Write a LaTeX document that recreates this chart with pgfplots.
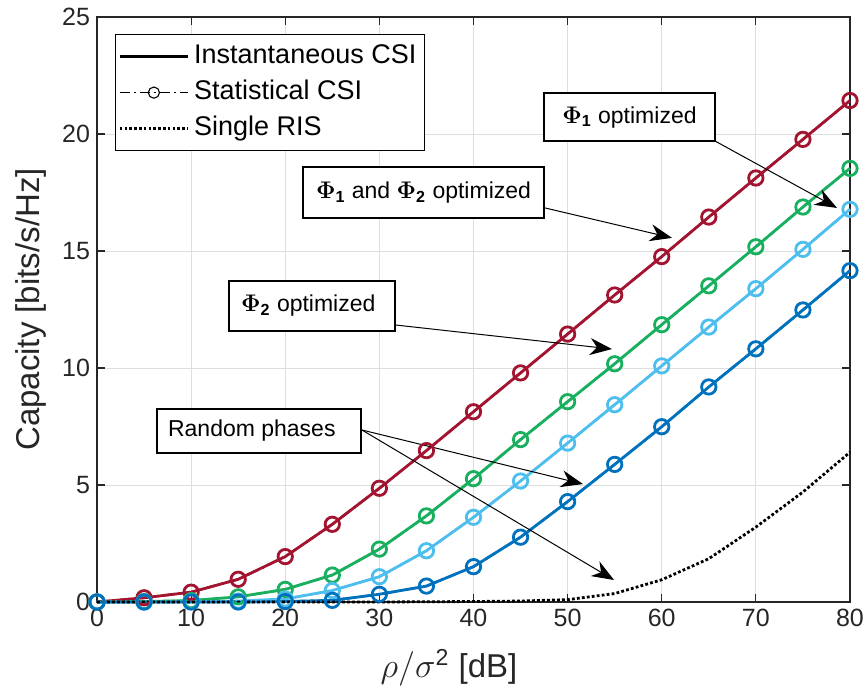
\documentclass[border=0pt]{standalone}
\usepackage[no-math]{fontspec}
\setmainfont{Liberation Sans}
\usepackage{amsmath}
\usepackage{pgfplots}
\usepackage{pgfplotstable}
\pgfplotsset{compat=1.18}
\usetikzlibrary{arrows.meta}

\definecolor{cred}{HTML}{A2142F}
\definecolor{cgreen}{HTML}{18B05E}
\definecolor{clblue}{HTML}{4DBEEE}
\definecolor{cdblue}{HTML}{0072BD}
\definecolor{axgray}{HTML}{262626}

\pgfplotstableread{
x   red   green lblue dblue ris
0   0     0     0     0     0
5   0.18  0.02  0.00  0.00  0.00
10  0.42  0.06  0.01  0.00  0.00
15  0.97  0.22  0.04  0.00  0.00
20  1.94  0.54  0.13  0.02  0.00
25  3.32  1.15  0.49  0.07  0.00
30  4.86  2.26  1.08  0.33  0.00
35  6.47  3.68  2.19  0.68  0.01
40  8.13  5.27  3.62  1.51  0.02
45  9.79  6.94  5.17  2.77  0.04
50  11.45 8.56  6.79  4.29  0.10
55  13.12 10.18 8.43  5.88  0.36
60  14.76 11.85 10.09 7.49  0.95
65  16.45 13.51 11.75 9.19  1.85
70  18.12 15.18 13.39 10.82 3.20
75  19.77 16.88 15.07 12.48 4.70
80  21.43 18.53 16.78 14.16 6.40
}\data

\tikzset{annarrow/.style={line width=0.5pt, -{Stealth[length=11pt, width=8.5pt, inset=3.5pt]}},
  annbox/.style={line width=0.6pt, draw=black, fill=white},
  anntext/.style={font=\fontsize{11.5}{13}\selectfont}}

\begin{document}
\begin{tikzpicture}
\begin{axis}[
  at={(0,0)}, anchor=south west,
  scale only axis, width=376.5pt, height=292.5pt,
  xmin=0, xmax=80, ymin=0, ymax=25,
  xtick={0,10,...,80}, ytick={0,5,...,25},
  grid=major, major grid style={color=black!13, line width=0.4pt},
  axis line style={color=axgray, line width=0.6pt},
  tick align=inside, tick pos=both, major tick length=4pt,
  tick style={color=axgray, line width=0.6pt},
  ticklabel style={font=\fontsize{12.5}{14}\selectfont, color=axgray},
  /pgf/number format/assume math mode=true,
  xlabel={$\rho/\sigma^{\text{2}}$ [dB]},
  ylabel={Capacity [bits/s/Hz]},
  label style={font=\fontsize{16.5}{19}\selectfont, color=axgray},
  xlabel style={at={(axis description cs:0.4675,-0.1299)}, anchor=base},
  ylabel style={at={(axis description cs:-0.0757,0.5)}, rotate=0, anchor=base},
  clip=false,
  legend cell align=left,
  legend style={at={(axis description cs:0.0239,0.9709)}, anchor=north west,
    font=\fontsize{13.5}{15}\selectfont, draw=black, line width=0.6pt,
    inner xsep=1.5pt, inner ysep=2pt, row sep=0pt,
    nodes={text height=10pt, text depth=3pt, inner sep=2.5pt},
    /tikz/every odd column/.append style={xshift=0pt},
    /tikz/every even column/.append style={column sep=1.5pt}},
  legend image code/.code={\draw[mark repeat=2,mark phase=2,#1] plot coordinates {(0pt,0pt) (17pt,0pt) (34pt,0pt)};},
]
\addlegendimage{black, line width=1.3pt}
\addlegendimage{black, line width=0.5pt, dash pattern=on 5pt off 2pt on 1pt off 2pt, mark=o, mark size=2.8pt, mark options={solid, line width=0.55pt}}
\addlegendimage{black, line width=1.3pt, dash pattern=on 1.3pt off 1.1pt}

% Instantaneous CSI (solid)
\addplot[cred, line width=1.4pt, forget plot] table[x=x, y=red]{\data};
\addplot[cgreen, line width=1.4pt, forget plot] table[x=x, y=green]{\data};
\addplot[clblue, line width=1.4pt, forget plot] table[x=x, y=lblue]{\data};
\addplot[cdblue, line width=1.4pt, forget plot] table[x=x, y=dblue]{\data};
% Statistical CSI (dash-dot with circles)
\addplot[cred, line width=1.2pt, dash pattern=on 6pt off 2pt on 1pt off 2pt, mark=o, mark size=3.6pt, mark options={solid, line width=1.4pt}, forget plot] table[x=x, y=red]{\data};
\addplot[cgreen, line width=1.2pt, dash pattern=on 6pt off 2pt on 1pt off 2pt, mark=o, mark size=3.6pt, mark options={solid, line width=1.4pt}, forget plot] table[x=x, y=green]{\data};
\addplot[clblue, line width=1.2pt, dash pattern=on 6pt off 2pt on 1pt off 2pt, mark=o, mark size=3.6pt, mark options={solid, line width=1.4pt}, forget plot] table[x=x, y=lblue]{\data};
\addplot[cdblue, line width=1.2pt, dash pattern=on 6pt off 2pt on 1pt off 2pt, mark=o, mark size=3.6pt, mark options={solid, line width=1.4pt}, forget plot] table[x=x, y=dblue]{\data};
% Single RIS
\addplot[black, line width=1.4pt, dash pattern=on 1.4pt off 1.1pt, forget plot] table[x=x, y=ris]{\data};

\legend{Instantaneous CSI, Statistical CSI, Single RIS}

% annotations
\draw[annbox] (axis cs:47.49,21.75) rectangle (axis cs:65.66,19.70);
\node[anntext] at (axis cs:56.57,20.72) {$\mathbf{\Phi}_{\textbf{1}}$ optimized};
\draw[annarrow] (axis cs:65.66,19.70) -- (axis cs:78.62,16.84);

\draw[annbox] (axis cs:21.89,18.59) rectangle (axis cs:47.49,16.41);
\node[anntext] at (axis cs:34.69,17.50) {$\mathbf{\Phi}_{\textbf{1}}$ and $\mathbf{\Phi}_{\textbf{2}}$ optimized};
\draw[annarrow] (axis cs:47.60,16.84) -- (axis cs:61.09,15.56);

\draw[annbox] (axis cs:14.02,13.72) rectangle (axis cs:31.66,11.58);
\node[anntext] at (axis cs:22.45,12.65) {$\mathbf{\Phi}_{\textbf{2}}$ optimized};
\draw[annarrow] (axis cs:31.66,11.84) -- (axis cs:54.71,10.81);

\draw[annbox] (axis cs:6.37,8.25) rectangle (axis cs:28.05,6.37);
\node[anntext] at (axis cs:16.45,7.31) {Random phases};
\draw[annarrow] (axis cs:28.15,7.35) -- (axis cs:51.63,5.04);
\draw[annarrow] (axis cs:28.15,7.35) -- (axis cs:54.93,0.94);
\end{axis}
\pgfresetboundingbox
\useasboundingbox (-48.5pt,-43pt) rectangle (384.5pt,301pt);
\end{tikzpicture}
\end{document}
